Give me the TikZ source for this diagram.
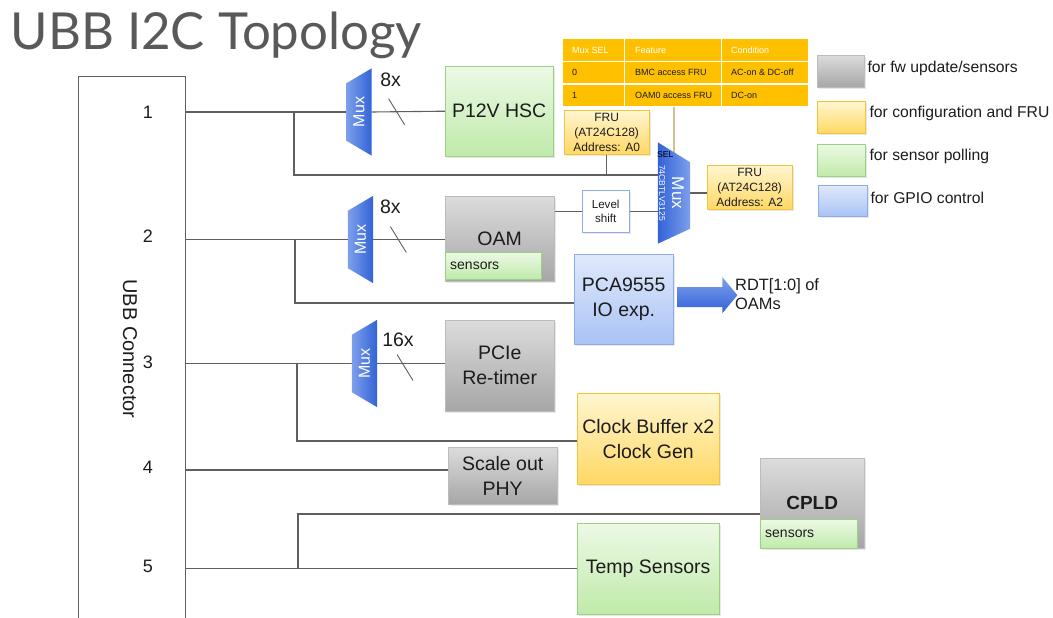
\documentclass[tikz,border=0pt]{standalone}
\usepackage{fontspec}
\setmainfont{Liberation Sans}
\newfontfamily\titlefont{Lato}
\usetikzlibrary{positioning,backgrounds,shadows}

\definecolor{wirec}{RGB}{95,95,95}
\definecolor{grytop}{RGB}{220,220,220}
\definecolor{grybot}{RGB}{166,166,166}
\definecolor{grybrd}{RGB}{188,188,188}
\definecolor{grntop}{RGB}{236,249,229}
\definecolor{grnbot}{RGB}{192,234,170}
\definecolor{grnbrd}{RGB}{155,208,130}
\definecolor{ylwtop}{RGB}{255,246,208}
\definecolor{ylwbot}{RGB}{255,216,100}
\definecolor{ylwbrd}{RGB}{242,196,60}
\definecolor{blutop}{RGB}{224,233,251}
\definecolor{blubot}{RGB}{170,195,244}
\definecolor{blubrd}{RGB}{140,172,236}
\definecolor{muxlt}{RGB}{125,160,235}
\definecolor{muxdk}{RGB}{50,98,214}
\definecolor{tblorg}{RGB}{255,192,0}
\definecolor{selc}{RGB}{212,192,142}
\definecolor{titlec}{RGB}{89,89,89}
\definecolor{txtc}{RGB}{28,28,28}

\newcommand\fsz[2]{\fontsize{#1}{#2}\selectfont}

\tikzset{
  wire/.style={draw=wirec, line width=1.1pt},
  blk/.style={rectangle, anchor=north west, inner sep=0pt, align=center, text=txtc,
    font=\fsz{19.5}{25}, drop shadow={opacity=0.18, shadow xshift=1.5pt, shadow yshift=-1.5pt}},
  grybox/.style={blk, draw=grybrd, top color=grytop, bottom color=grybot},
  grnbox/.style={blk, draw=grnbrd, top color=grntop, bottom color=grnbot},
  ylwbox/.style={blk, draw=ylwbrd, top color=ylwtop, bottom color=ylwbot},
  blubox/.style={blk, draw=blubrd, top color=blutop, bottom color=blubot},
  sensbox/.style={rectangle, anchor=north west, inner ysep=0pt, inner xsep=5pt, align=left,
    draw=grnbrd, top color=grntop, bottom color=grnbot, text=txtc, font=\fsz{14}{16}},
  tcell/.style={draw=white, line width=1.2pt, fill=tblorg, anchor=north west, inner sep=0pt,
    minimum height=22.7pt},
  ttxt/.style={anchor=west, inner sep=0pt, font=\fsz{9}{11}},
  muxbox/.style={rectangle, inner sep=0pt, minimum width=25pt, minimum height=87pt},
  muxlbl/.style={text=white, font=\fsz{16}{18}},
  lgtxt/.style={anchor=west, inner sep=0pt, text=txtc, font=\fsz{15.7}{18}},
  lbl/.style={text=txtc, font=\fsz{19.5}{22}}
}

\begin{document}
\begin{tikzpicture}[x=1pt,y=-1pt]
\useasboundingbox (0,0) rectangle (1053,618);

\node[anchor=base west, text=titlec, font=\titlefont\fsz{51}{56}] (ttl) at (7,50) {UBB I2C Topology};

% connector
\node[draw=wirec, line width=1pt, anchor=north west, minimum width=107pt, minimum height=570pt] (ubb) at (78,76) {};
\node[rotate=-90, text=txtc, font=\fsz{20}{24}] (ubbt) at (130,349) {UBB Connector};
\node[lbl, font=\fsz{18}{20}] (n1) at (148,112) {1};
\node[lbl, font=\fsz{18}{20}] (n2) at (148,236) {2};
\node[lbl, font=\fsz{18}{20}] (n3) at (148,362) {3};
\node[lbl, font=\fsz{18}{20}] (n4) at (148,467) {4};
\node[lbl, font=\fsz{18}{20}] (n5) at (148,566) {5};

% muxes
\foreach \nm/\cx/\cy in {muxa/359/112, muxb/360.5/239.5, muxc/364.5/363.5} {
  \node[muxbox] (\nm) at (\cx,\cy) {};
  \shade[left color=muxlt, right color=muxdk] (\nm.north east) -- (\nm.south east)
    -- ([yshift=15pt]\nm.south west) -- ([yshift=-15pt]\nm.north west) -- cycle;
  \node[muxlbl, rotate=90] at (\nm) {Mux};
}
\node[muxbox, minimum width=32pt, minimum height=101pt] (muxd) at (674,193) {};
\shade[left color=muxdk, right color=muxlt] (muxd.north west) -- ([yshift=-20pt]muxd.north east)
  -- ([yshift=15pt]muxd.south east) -- (muxd.south west) -- cycle;
\node[muxlbl, rotate=-90, font=\fsz{17}{19}] (muxdt) at (678,193) {Mux};
\node[rotate=-90, text=white, font=\fsz{8.6}{10}] (muxdp) at (662,193) {74CBTLV3125};
\node[anchor=west, inner sep=0pt, text=black, font=\fsz{8.6}{10}] (sel) at (657,155) {SEL};

% blocks
\node[grnbox, minimum width=108pt, minimum height=90pt] (p12v) at (445,66) {P12V HSC};
\node[grybox, minimum width=109pt, minimum height=85pt] (oam) at (445,196) {OAM};
\node[sensbox, minimum width=96pt, minimum height=27pt, text width=86pt] (oams) at (445,252) {sensors};
\node[blk, draw=blubrd, fill=white, minimum width=47pt, minimum height=42pt, font=\fsz{11.6}{14}] (lvl) at (582,190) {Level\\shift};
\node[ylwbox, minimum width=85pt, minimum height=44pt, font=\fsz{12}{15}] (fru1) at (564,110) {FRU\\(AT24C128)\\Address: A0};
\node[ylwbox, minimum width=85pt, minimum height=44pt, font=\fsz{12}{15}] (fru2) at (707,165) {FRU\\(AT24C128)\\Address: A2};
\node[blubox, minimum width=99pt, minimum height=90pt] (pca) at (574,254) {PCA9555\\IO exp.};
\node[anchor=west, align=left, inner sep=0pt, text=txtc, font=\fsz{16.4}{19}] (rdt) at (735,294) {RDT[1:0] of\\OAMs};
\node[grybox, minimum width=109pt, minimum height=91pt] (pcie) at (445,320) {PCIe\\Re-timer};
\node[ylwbox, minimum width=142pt, minimum height=91pt] (clk) at (577,393) {Clock Buffer x2\\Clock Gen};
\node[grybox, minimum width=109pt, minimum height=57pt] (phy) at (448,447) {Scale out\\PHY};
\node[grybox, minimum width=104pt, minimum height=90pt, font=\fsz{19}{22}\bfseries] (cpld) at (760,458) {CPLD};
\node[sensbox, minimum width=97pt, minimum height=29pt, text width=87pt] (cplds) at (760,519) {sensors};
\node[grnbox, minimum width=142pt, minimum height=91pt] (temp) at (577,523) {Temp Sensors};

% arrow to RDT
\shade[top color=muxlt, bottom color=muxdk] ([xshift=4pt, yshift=12pt]pca.east) -- ++(45,0) -- ++(0,-10)
  -- ++(15,18) -- ++(-15,18) -- ++(0,-6) -- ++(-45,0) -- cycle;

% sel table
\foreach \r/\y/\a/\b/\c/\tc in {1/38/Mux SEL/Feature/Condition/white,
    2/60.7/0/BMC access FRU/AC-on \& DC-off/txtc, 3/83.4/1/OAM0 access FRU/DC-on/txtc} {
  \node[tcell, minimum width=62pt] (t\r1) at (562,\y) {};
  \node[tcell, minimum width=97pt] (t\r2) at (624,\y) {};
  \node[tcell, minimum width=87pt] (t\r3) at (721,\y) {};
  \node[ttxt, text=\tc] at ([xshift=10pt]t\r1.west) {\a};
  \node[ttxt, text=\tc] at ([xshift=11pt]t\r2.west) {\b};
  \node[ttxt, text=\tc] at ([xshift=10pt]t\r3.west) {\c};
}

% legend
\node[grybox, minimum width=47pt, minimum height=32pt] (lg1) at (817,55) {};
\node[lgtxt, right=3pt of lg1, yshift=3pt] (lgt1) {for fw update/sensors};
\node[ylwbox, minimum width=48pt, minimum height=32pt] (lg2) at (817,101) {};
\node[lgtxt, right=4pt of lg2, yshift=4pt] (lgt2) {for configuration and FRU};
\node[grnbox, minimum width=48pt, minimum height=32pt] (lg3) at (817,144) {};
\node[lgtxt, right=4pt of lg3, yshift=4pt] (lgt3) {for sensor polling};
\node[blubox, minimum width=49pt, minimum height=31pt] (lg4) at (818,185) {};
\node[lgtxt, right=3pt of lg4, yshift=3pt] (lgt4) {for GPIO control};

% wires
\coordinate (j1) at (294,175);
\coordinate (j2) at (295,303);
\coordinate (j3) at (297,441);
\coordinate (j4) at (185,470);
\coordinate (j5) at (298,514);
\begin{pgfonlayer}{background}
\draw[wire] (ubb.east |- muxa.west) -- (muxa.west);
\draw[wire] (muxa.east) -- coordinate[pos=0.34] (s1) (p12v.west);
\draw[wire] (j1 |- muxa.west) -- (j1) -- (j1 -| muxd.west);
\draw[wire] (fru1.south) -- (fru1.south |- j1);
\draw[wire, draw=selc] (muxd.center |- t32.south) -- (muxd.center);
\draw[wire] (ubb.east |- muxb.west) -- (muxb.west);
\draw[wire] (muxb.east) -- coordinate[pos=0.35] (s2) (oam.west |- muxb.east);
\draw[wire] (j2 |- muxb.west) -- (j2) -- (j2 -| pca.west);
\draw[wire] (oam.east |- lvl.west) -- (lvl.west);
\draw[wire] (lvl.east) -- (lvl.east -| muxd.west);
\draw[wire] (muxd.east) -- (muxd.east -| fru2.west);
\draw[wire] (ubb.east |- muxc.west) -- (muxc.west);
\draw[wire] (muxc.east) -- coordinate[pos=0.41] (s3) (pcie.west |- muxc.east);
\draw[wire] (j3 |- muxc.west) -- (j3) -- (j3 -| clk.west);
\draw[wire] (j4) -- (j4 -| phy.west);
\draw[wire] (ubb.east |- temp.west) -- (temp.west);
\draw[wire] (j5 |- temp.west) -- (j5) -- (j5 -| cpld.west);
\end{pgfonlayer}

% bus widths
\draw[wire, line width=0.9pt] ([shift={(-8,-13)}]s1) -- ([shift={(8,13)}]s1);
\draw[wire, line width=0.9pt] ([shift={(-8,-13)}]s2) -- ([shift={(8,13)}]s2);
\draw[wire, line width=0.9pt] ([shift={(-8,-9)}]s3) -- ([shift={(8,17)}]s3);
\node[lbl] (w1) at ([shift={(-6,-32)}]s1) {8x};
\node[lbl] (w2) at ([shift={(-8,-33)}]s2) {8x};
\node[lbl] (w3) at ([shift={(-7,-24)}]s3) {16x};

\end{tikzpicture}
\end{document}
